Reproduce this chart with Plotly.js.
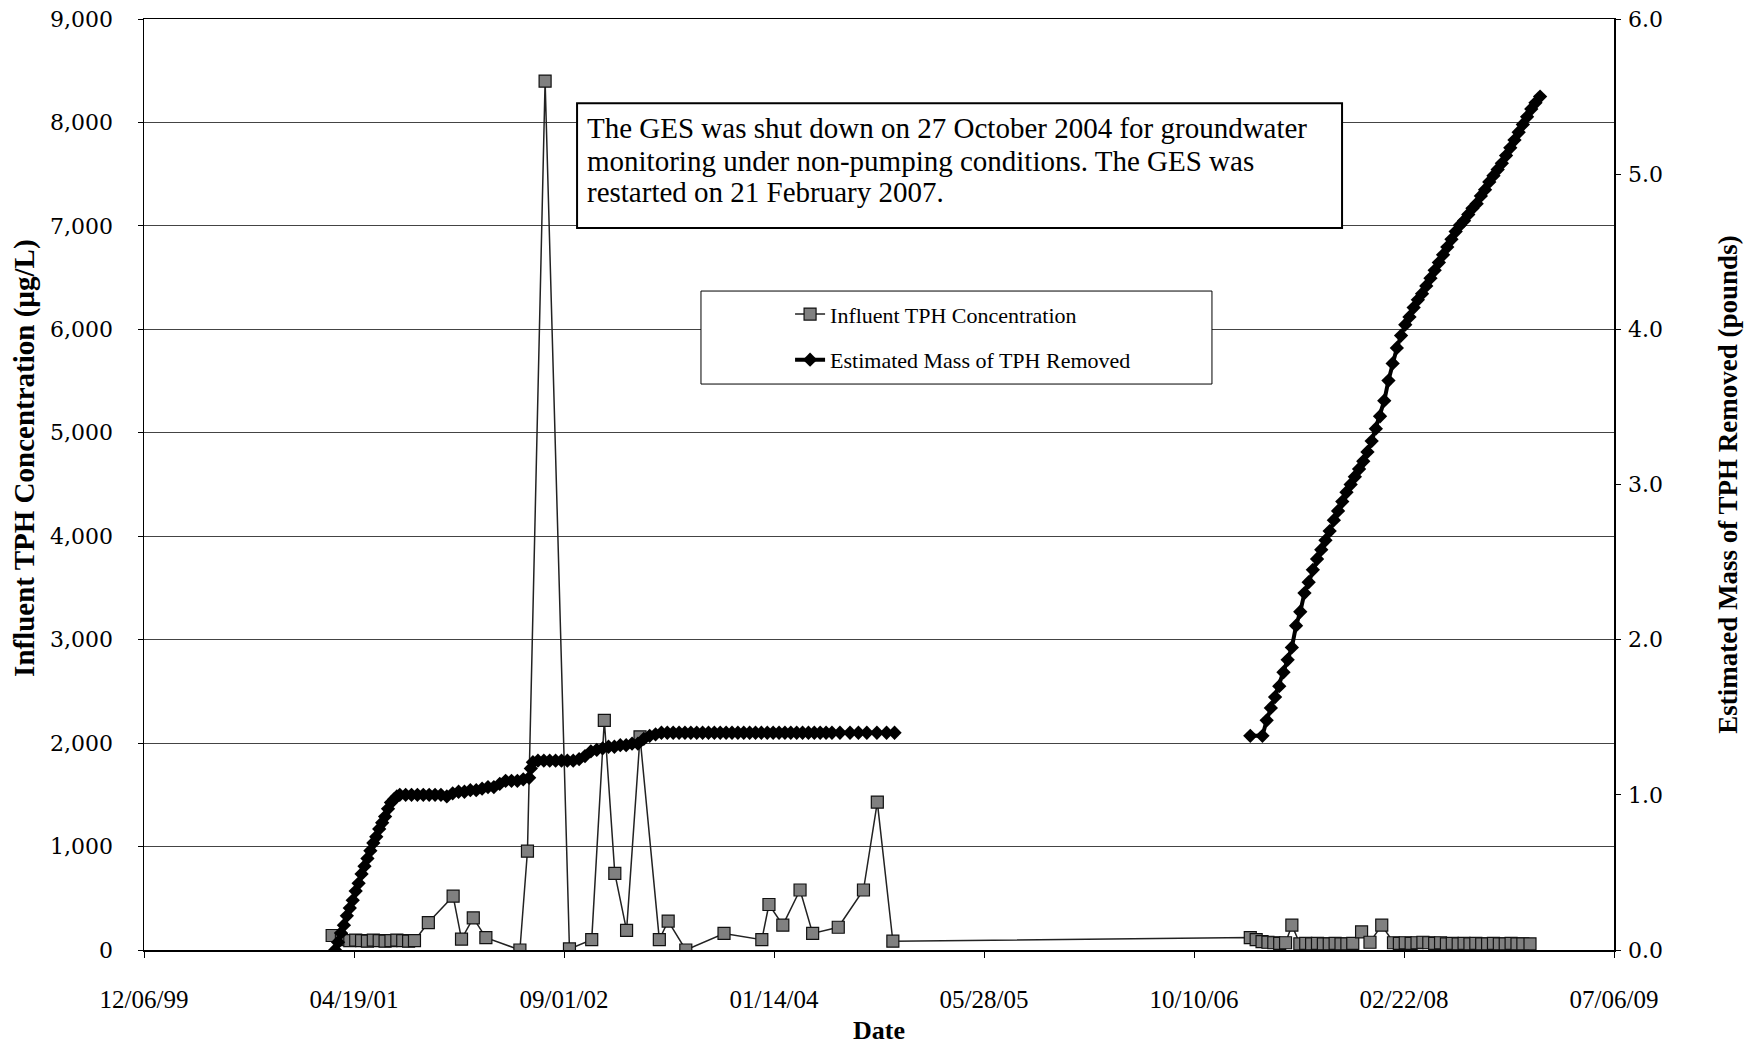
<!DOCTYPE html>
<html>
<head>
<meta charset="utf-8">
<script src="https://cdn.plot.ly/plotly-3.0.1.min.js"></script>
<style>html,body{margin:0;padding:0;background:#fff;}#chart{width:1764px;height:1045px;}</style>
</head>
<body>
<div id="chart"></div>
<script>
// ---- Data ----
var xTickDates = ['1999-12-06','2001-04-19','2002-09-01','2004-01-14','2005-05-28','2006-10-10','2008-02-22','2009-07-06'];
var leftTicks = [0,1000,2000,3000,4000,5000,6000,7000,8000,9000];
var rightTicks = [0,1,2,3,4,5,6];

var concDates = [
 '2001-02-26','2001-03-20','2001-04-09','2001-04-23','2001-05-07','2001-05-21','2001-06-04','2001-06-18',
 '2001-07-02','2001-07-16','2001-07-30','2001-08-13','2001-08-27','2001-09-10','2001-10-13','2001-12-11',
 '2001-12-31','2002-01-28','2002-02-27','2002-05-19','2002-06-06','2002-07-18','2002-09-14','2002-11-06',
 '2002-12-06','2002-12-31','2003-01-28','2003-03-01','2003-04-16','2003-05-07','2003-06-18','2003-09-17',
 '2003-12-16','2004-01-02','2004-02-04','2004-03-16','2004-04-15','2004-06-15','2004-08-14','2004-09-16',
 '2004-10-23',
 '2007-02-21','2007-03-07','2007-03-21','2007-04-04','2007-04-18','2007-05-02','2007-05-16','2007-05-31',
 '2007-06-19','2007-07-03','2007-07-17','2007-07-31','2007-08-14','2007-08-28','2007-09-11','2007-09-25',
 '2007-10-09','2007-10-23','2007-11-13','2007-12-03','2007-12-31','2008-01-28','2008-02-11','2008-02-25',
 '2008-03-10','2008-03-24','2008-04-07','2008-04-21','2008-05-05','2008-05-19','2008-06-02','2008-06-16',
 '2008-06-30','2008-07-14','2008-07-28','2008-08-11','2008-08-25','2008-09-08','2008-09-22','2008-10-06',
 '2008-10-20','2008-11-03','2008-11-17','2008-12-01','2008-12-18'
];
var concValues = [
 140,100,90,95,90,85,95,90,
 85,90,95,90,85,90,265,520,
 105,310,120,0,955,8400,10,100,
 2220,740,190,2060,100,280,0,160,
 100,440,240,580,160,220,580,1430,
 85,
 120,100,80,75,70,65,70,240,
 60,65,60,65,60,60,65,60,
 60,65,175,75,240,70,65,70,
 65,70,75,70,65,70,60,65,
 60,65,60,65,60,60,65,60,
 60,65,60,60,60
];

var massDates = [
 '2001-03-05','2001-03-12','2001-03-19','2001-03-26','2001-04-02','2001-04-09','2001-04-16','2001-04-23',
 '2001-04-30','2001-05-07','2001-05-14','2001-05-21','2001-05-28','2001-06-04','2001-06-11','2001-06-18',
 '2001-06-25','2001-07-02','2001-07-09','2001-07-16','2001-07-23','2001-07-30','2001-08-06','2001-08-20',
 '2001-09-03','2001-09-17','2001-10-01','2001-10-15','2001-10-29','2001-11-12','2001-11-26','2001-12-10',
 '2001-12-24','2002-01-07','2002-01-21','2002-02-04','2002-02-18','2002-03-04','2002-03-18','2002-04-01',
 '2002-04-15','2002-04-29','2002-05-13','2002-05-27','2002-06-10','2002-06-14','2002-06-19','2002-07-01',
 '2002-07-15','2002-07-29','2002-08-12','2002-08-26','2002-09-09','2002-09-23','2002-10-07','2002-10-21',
 '2002-11-04','2002-11-18','2002-12-02','2002-12-16','2002-12-30','2003-01-13','2003-01-27','2003-02-10',
 '2003-02-24','2003-03-10','2003-03-24','2003-04-07','2003-04-21','2003-05-05','2003-05-19','2003-06-02',
 '2003-06-16','2003-06-30','2003-07-14','2003-07-28','2003-08-11','2003-08-25','2003-09-08','2003-09-22',
 '2003-10-06','2003-10-20','2003-11-03','2003-11-17','2003-12-01','2003-12-15','2003-12-29','2004-01-12',
 '2004-01-26','2004-02-09','2004-02-23','2004-03-08','2004-03-22','2004-04-05','2004-04-19','2004-05-03',
 '2004-05-17','2004-05-31','2004-06-19','2004-07-13','2004-08-02','2004-08-22','2004-09-15','2004-10-08',
 '2004-10-27',
 '2005-12-01',
 '2007-02-21','2007-03-22','2007-04-01','2007-04-11','2007-04-21','2007-05-01','2007-05-11','2007-05-21',
 '2007-05-31','2007-06-10','2007-06-20','2007-06-30','2007-07-10','2007-07-20','2007-07-30','2007-08-09',
 '2007-08-19','2007-08-29','2007-09-08','2007-09-18','2007-09-28','2007-10-08','2007-10-18','2007-10-28',
 '2007-11-07','2007-11-17','2007-11-27','2007-12-07','2007-12-17','2007-12-27','2008-01-06','2008-01-16',
 '2008-01-26','2008-02-05','2008-02-15','2008-02-25','2008-03-06','2008-03-16','2008-03-26','2008-04-05',
 '2008-04-15','2008-04-25','2008-05-05','2008-05-15','2008-05-25','2008-06-04','2008-06-14','2008-06-24',
 '2008-07-04','2008-07-14','2008-07-24','2008-08-03','2008-08-13','2008-08-23','2008-09-02','2008-09-12',
 '2008-09-22','2008-10-02','2008-10-12','2008-10-22','2008-11-01','2008-11-11','2008-11-21','2008-12-01',
 '2008-12-11','2008-12-21','2008-12-31','2009-01-11'
];
var massValues = [
 0.00,0.05,0.11,0.16,0.22,0.27,0.32,0.38,
 0.43,0.49,0.54,0.59,0.64,0.69,0.73,0.78,
 0.82,0.86,0.91,0.95,0.97,0.99,1.00,1.00,
 1.00,1.00,1.00,1.00,1.00,1.00,0.99,1.01,
 1.02,1.02,1.03,1.03,1.04,1.05,1.05,1.07,
 1.09,1.09,1.09,1.10,1.11,1.17,1.21,1.22,
 1.22,1.22,1.22,1.22,1.22,1.22,1.23,1.25,
 1.28,1.29,1.30,1.31,1.31,1.32,1.32,1.33,
 1.33,1.36,1.38,1.39,1.40,1.40,1.40,1.40,
 1.40,1.40,1.40,1.40,1.40,1.40,1.40,1.40,
 1.40,1.40,1.40,1.40,1.40,1.40,1.40,1.40,
 1.40,1.40,1.40,1.40,1.40,1.40,1.40,1.40,
 1.40,1.40,1.40,1.40,1.40,1.40,1.40,1.40,
 1.40,
 null,
 1.38,1.38,1.48,1.56,1.63,1.70,1.79,1.87,
 1.95,2.09,2.18,2.30,2.37,2.45,2.52,2.58,
 2.64,2.70,2.77,2.83,2.89,2.95,3.00,3.05,
 3.10,3.15,3.21,3.28,3.36,3.44,3.54,3.67,
 3.78,3.88,3.96,4.03,4.08,4.14,4.19,4.23,
 4.28,4.33,4.38,4.43,4.48,4.53,4.58,4.63,
 4.67,4.70,4.74,4.78,4.81,4.86,4.90,4.95,
 4.99,5.03,5.07,5.12,5.17,5.22,5.27,5.32,
 5.37,5.42,5.46,5.50
];

var concName = 'Influent TPH Concentration';
var massName = 'Estimated Mass of TPH Removed';
var leftTitle = 'Influent TPH Concentration (µg/L)';
var rightTitle = 'Estimated Mass of TPH Removed (pounds)';
var noteLines = [
 'The GES was shut down on 27 October 2004 for groundwater',
 'monitoring under non-pumping conditions. The GES was',
 'restarted on 21 February 2007.'
];

// ---- Chart ----
var serif = 'Liberation Serif, Times New Roman, serif';
var tickSerif = 'DejaVu Serif, serif';

var massTrace = {
  x: massDates, y: massValues, yaxis: 'y2', name: massName,
  type: 'scatter', mode: 'lines+markers', connectgaps: false,
  line: {color: '#000000', width: 4},
  marker: {symbol: 'diamond', size: 11, color: '#000000'},
  legendgroup: 'm', legendrank: 2, hoverinfo: 'skip'
};
var concTrace = {
  x: concDates, y: concValues, yaxis: 'y', name: concName,
  type: 'scatter', mode: 'lines+markers',
  line: {color: '#222222', width: 1.5},
  marker: {symbol: 'square', size: 12, color: '#808080', line: {color: '#111111', width: 1.2}},
  legendgroup: 'c', legendrank: 1, hoverinfo: 'skip'
};

// note box geometry (paper coordinates)
var noteX0 = 0.2946, noteX1 = 0.815, noteY0 = 0.7755, noteY1 = 0.9094;
var noteLineY = [0.8830, 0.8470, 0.8140];

var annotations = noteLines.map(function (t, i) {
  return {xref: 'paper', yref: 'paper', x: 0.3, y: noteLineY[i], xanchor: 'left', yanchor: 'middle',
          text: t, showarrow: false, align: 'left',
          font: {family: serif, size: 29, color: '#000'}};
});
annotations.push({
  xref: 'paper', yref: 'paper', x: -0.081, y: 0.5285, xanchor: 'center', yanchor: 'middle',
  text: leftTitle, textangle: -90, showarrow: false,
  font: {family: serif, size: 29, color: '#000', weight: 'bold'}
});

var layout = {
  width: 1764, height: 1045,
  margin: {l: 144, r: 150, t: 19, b: 95},
  paper_bgcolor: '#ffffff', plot_bgcolor: '#ffffff',
  showlegend: true,
  legend: {
    x: 0.4395, y: 0.7054, xanchor: 'left', yanchor: 'top',
    bgcolor: 'rgba(0,0,0,0)', borderwidth: 0,
    font: {family: serif, size: 22, color: '#000'},
    tracegroupgap: 14, traceorder: 'grouped'
  },
  xaxis: {
    type: 'date', range: ['1999-12-06', '2009-07-06'],
    tickvals: xTickDates, tickformat: '%m/%d/%y',
    showgrid: false, zeroline: false,
    showline: true, linecolor: '#000', linewidth: 1.5, mirror: true,
    ticks: 'outside', ticklen: 6, tickcolor: '#000',
    ticklabelstandoff: 20,
    tickfont: {family: serif, size: 25, color: '#000'},
    title: {text: 'Date', font: {family: serif, size: 26, color: '#000', weight: 'bold'}, standoff: 13}
  },
  yaxis: {
    range: [0, 9000], tickvals: leftTicks, tickformat: ',d',
    showgrid: true, gridcolor: '#444444', gridwidth: 1,
    zeroline: false, showline: true, linecolor: '#000', linewidth: 1.5,
    ticks: 'outside', ticklen: 5, tickcolor: '#000',
    ticklabelstandoff: 20,
    tickfont: {family: tickSerif, size: 22, color: '#000'}
  },
  yaxis2: {
    overlaying: 'y', side: 'right', range: [0, 6], tickvals: rightTicks, tickformat: '.1f',
    showgrid: false, zeroline: false, showline: true, linecolor: '#000', linewidth: 1.5,
    ticks: 'outside', ticklen: 5, tickcolor: '#000',
    ticklabelstandoff: 3,
    tickfont: {family: tickSerif, size: 22, color: '#000'},
    title: {text: rightTitle, font: {family: serif, size: 27, color: '#000', weight: 'bold'}, standoff: 56}
  },
  shapes: [
    {type: 'rect', xref: 'paper', yref: 'paper', x0: 0.3789, x1: 0.7265, y0: 0.6079, y1: 0.7078,
     line: {color: '#000', width: 1}, fillcolor: '#ffffff', layer: 'above'},
    {type: 'rect', xref: 'paper', yref: 'paper', x0: noteX0, x1: noteX1, y0: noteY0, y1: noteY1,
     line: {color: '#000', width: 2}, fillcolor: '#ffffff', layer: 'above'}
  ],
  annotations: annotations
};

Plotly.newPlot('chart', [massTrace, concTrace], layout, {displayModeBar: false, staticPlot: true});
</script>
</body>
</html>
